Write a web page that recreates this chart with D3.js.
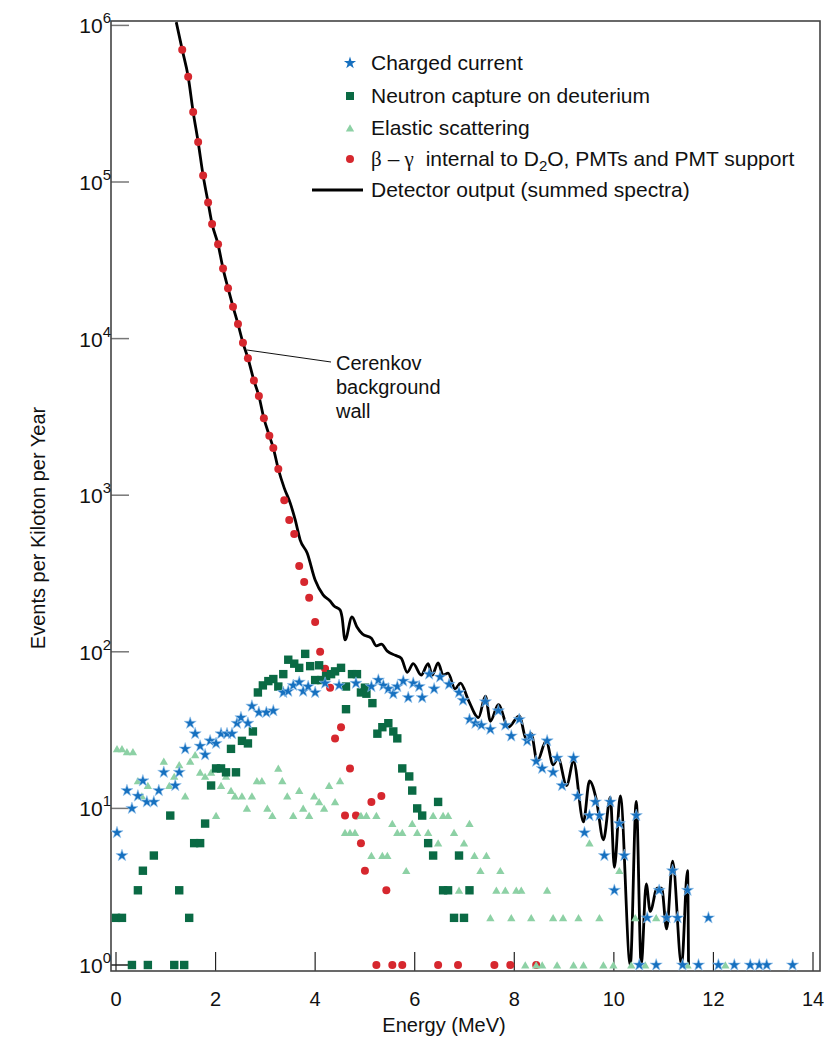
<!DOCTYPE html>
<html>
<head>
<meta charset="utf-8">
<script src="https://cdn.jsdelivr.net/npm/d3@7"></script>
<style>
	body { margin: 0; background: #fff; }
	text { font-family: "Liberation Sans", Arial, sans-serif; fill: #111; }
</style>
</head>
<body>
<div id="chart"></div>
<script>
var width = 824;
var height = 1038;

// Charged current (blue stars): energy (MeV) / events per kiloton per year
var ccEnergy = [0.02, 0.12, 0.22, 0.32, 0.44, 0.54, 0.62, 0.76, 0.86, 0.96, 1.19, 1.27, 1.39, 1.49, 1.59, 1.69, 1.79, 1.89,
	2.01, 2.11, 2.23, 2.33, 2.43, 2.51, 2.65, 2.73, 2.87, 3.02, 3.16, 3.36, 3.46, 3.56, 3.68, 3.76, 3.86, 4.00, 4.20, 4.48,
	4.82, 5.13, 5.27, 5.37, 5.47, 5.57, 5.65, 5.77, 5.87, 5.97, 6.09, 6.15, 6.29, 6.39, 6.51, 6.69, 6.89, 6.97, 7.10, 7.22,
	7.34, 7.42, 7.52, 7.68, 7.82, 7.94, 8.10, 8.26, 8.32, 8.44, 8.56, 8.66, 8.78, 8.86, 8.96, 9.19, 9.27, 9.41, 9.51, 9.63,
	9.71, 9.81, 9.93, 10.01, 10.11, 10.21, 10.45, 10.51, 10.67, 10.85, 10.91, 11.06, 11.18, 11.28, 11.38, 11.48, 11.70,
	11.90, 12.10, 12.42, 12.74, 12.92, 13.07, 13.59];
var ccEvents = [7, 5, 13, 10, 12, 15, 11, 11, 13, 17, 14, 17, 24, 35, 30, 25, 22, 27,
	26, 30, 30, 30, 35, 38, 35, 45, 41, 41, 42, 55, 56, 61, 64, 56, 60, 55, 63, 61,
	63, 60, 66, 61, 58, 54, 60, 65, 51, 63, 60, 51, 72, 58, 69, 62, 55, 49, 37, 35,
	34, 48, 32, 42, 34, 29, 37, 27, 29, 20, 18, 27, 17, 21, 14, 21, 12, 7, 9, 11,
	9, 5, 11, 3, 8, 5, 9, 1, 2, 1, 3, 2, 4, 2, 1, 3, 1,
	2, 1, 1, 1, 1, 1, 1];

// Neutron capture on deuterium (dark green squares)
var ncEnergy = [0.00, 0.12, 0.32, 0.44, 0.54, 0.64, 0.76, 1.09, 1.17, 1.27, 1.37, 1.47, 1.57, 1.69, 1.79, 1.91, 2.01, 2.11,
	2.21, 2.31, 2.41, 2.53, 2.65, 2.75, 2.85, 2.95, 3.06, 3.16, 3.26, 3.36, 3.46, 3.58, 3.68, 3.80, 3.90, 4.00, 4.08, 4.12,
	4.22, 4.32, 4.40, 4.52, 4.62, 4.62, 4.74, 4.84, 4.92, 5.00, 5.03, 5.15, 5.25, 5.35, 5.47, 5.57, 5.65, 5.75, 5.89, 5.95,
	6.05, 6.15, 6.27, 6.37, 6.47, 6.57, 6.67, 6.79, 6.89, 6.99, 7.10];
var ncEvents = [2, 2, 1, 3, 4, 1, 5, 9, 1, 3, 1, 2, 6, 6, 8, 14, 18, 18,
	17, 24, 17, 27, 26, 31, 55, 61, 65, 67, 60, 72, 89, 84, 79, 97, 81, 66, 82, 66,
	70, 72, 75, 79, 60, 43, 72, 72, 55, 59, 54, 47, 30, 33, 35, 31, 28, 18, 16, 13,
	10, 9, 6, 5, 11, 3, 3, 2, 5, 2, 3];

// Elastic scattering (light green triangles)
var esEnergy = [0.02, 0.12, 0.22, 0.34, 0.44, 0.52, 0.64, 0.96, 1.07, 1.17, 1.27, 1.39, 1.49, 1.59, 1.69, 1.79, 1.91, 2.01,
	2.11, 2.21, 2.31, 2.39, 2.53, 2.63, 2.73, 2.83, 2.93, 3.04, 3.14, 3.26, 3.34, 3.44, 3.56, 3.68, 3.76, 3.88, 3.98, 4.08,
	4.18, 4.28, 4.40, 4.50, 4.60, 4.70, 4.80, 4.92, 5.03, 5.13, 5.23, 5.35, 5.45, 5.55, 5.65, 5.75, 5.83, 5.95, 6.05, 6.27,
	6.37, 6.47, 6.57, 6.67, 6.79, 6.89, 6.99, 7.10, 7.20, 7.32, 7.44, 7.52, 7.64, 7.72, 7.82, 7.94, 8.04, 8.14, 8.22, 8.34,
	8.44, 8.56, 8.66, 8.78, 8.86, 8.98, 9.19, 9.29, 9.39, 9.51, 9.71, 9.79, 9.99, 10.11, 10.35, 10.43, 10.63, 10.85, 11.48, 12.24];
var esEvents = [24, 24, 23, 23, 15, 12, 14, 20, 14, 16, 19, 12, 20, 22, 17, 16, 17, 9,
	14, 16, 13, 12, 12, 10, 12, 15, 15, 10, 9, 18, 15, 12, 9, 13, 10, 9, 12, 11,
	10, 14, 11, 15, 7, 7, 7, 9, 9, 5, 9, 5, 5, 8, 7, 7, 4, 8, 7, 7,
	9, 6, 9, 9, 7, 3, 6, 8, 5, 4, 5, 2, 3, 4, 3, 2, 3, 3, 1, 2,
	1, 1, 3, 2, 1, 2, 1, 2, 1, 6, 2, 1, 1, 4, 1, 2, 1, 2, 1, 1];

// Beta-gamma internal to D2O, PMTs and PMT support (red circles)
var bgEnergy = [1.33, 1.45, 1.55, 1.65, 1.75, 1.85, 1.93, 2.05, 2.15, 2.25, 2.35, 2.45, 2.55, 2.65, 2.77, 2.87, 2.97, 3.08,
	3.16, 3.26, 3.38, 3.48, 3.58, 3.68, 3.78, 3.88, 4.00, 4.10, 4.20, 4.30, 4.40, 4.52, 4.60, 4.70, 4.82, 4.92, 5.00, 5.13,
	5.23, 5.33, 5.43, 5.55, 5.75, 6.47, 6.87, 7.60, 7.92, 8.44];
var bgEvents = [7.0e5, 4.7e5, 2.8e5, 1.8e5, 1.1e5, 7.4e4, 5.4e4, 4.0e4, 2.8e4, 2.1e4, 1.6e4, 1.24e4, 9400, 7500, 5400, 4300, 3100, 2400,
	2000, 1470, 930, 695, 565, 353, 279, 221, 155, 100, 78, 59, 28, 33, 9, 18, 9, 6, 4, 11,
	1, 12, 3, 1, 1, 1, 1, 1, 1, 1];

// Detector output (summed spectra), black line
var detEnergy = [1.21, 1.33, 1.45, 1.55, 1.65, 1.75, 1.85, 1.93, 2.05, 2.15, 2.25, 2.35, 2.45, 2.55, 2.65, 2.77, 2.87, 2.97,
	3.08, 3.16, 3.26, 3.38, 3.50, 3.60, 3.70, 3.84, 4.00, 4.16, 4.30, 4.38, 4.50, 4.54, 4.60, 4.74, 4.84, 4.95, 5.13, 5.23,
	5.33, 5.45, 5.61, 5.73, 5.85, 5.97, 6.13, 6.27, 6.35, 6.47, 6.57, 6.67, 6.81, 6.92, 7.08, 7.28, 7.42, 7.52, 7.68, 7.88,
	8.10, 8.24, 8.34, 8.46, 8.64, 8.78, 8.88, 9.05, 9.19, 9.39, 9.51, 9.65, 9.79, 9.93, 10.01, 10.13, 10.33, 10.45, 10.55,
	10.65, 10.73, 10.87, 10.96, 11.06, 11.18, 11.36, 11.48, 11.50];
var detEvents = [1.05e6, 7.0e5, 4.7e5, 2.8e5, 1.8e5, 1.1e5, 7.4e4, 5.4e4, 4.0e4, 2.8e4, 2.1e4, 1.6e4, 1.24e4, 9400, 7500, 5400, 4300, 3100,
	2400, 2000, 1470, 1110, 890, 695, 517, 427, 287, 231, 211, 196, 185, 167, 119, 167, 144, 130, 122, 109,
	112, 101, 95, 91, 74, 84, 71, 84, 71, 85, 71, 73, 58, 63, 49, 38, 52, 36, 46, 33,
	39, 28, 30, 20, 27, 19, 21, 14, 20, 8.2, 15, 11.3, 6.3, 11.8, 4.2, 12, 1, 11.1, 1,
	3.3, 2.2, 3.1, 3.1, 1.7, 4.6, 1, 4, 1];

var xTicks = [0, 2, 4, 6, 8, 10, 12, 14];
var yExponents = [0, 1, 2, 3, 4, 5, 6];

var legendLabels = ["Charged current", "Neutron capture on deuterium", "Elastic scattering",
	"internal to D2O, PMTs and PMT support", "Detector output (summed spectra)"];

// plot frame
var frame = { left: 111, right: 820, top: 21, bottom: 971 };

var x = d3.scaleLinear().domain([0, 14]).range([116, 813]);
var y = d3.scaleLog().domain([1, 1e6]).range([965, 25.4]);

var colors = { cc: "#1670bf", nc: "#0a6a44", es: "#8dd1a5", bg: "#d6272e" };

function zip(ex, ev) {
	return ex.map((e, i) => ({ e: e, v: ev[i] }));
	}

var svg = d3.select("#chart")
	.append("svg")
		.attr("width", width)
		.attr("height", height)
	;

svg.append("clipPath")
	.attr("id", "plotclip")
	.append("rect")
		.attr("x", frame.left)
		.attr("y", frame.top)
		.attr("width", frame.right - frame.left)
		.attr("height", frame.bottom - frame.top)
	;

// ticks (inward)
svg.selectAll(".xtick")
	.data(xTicks)
	.enter()
		.append("line")
			.attr("x1", d => x(d))
			.attr("x2", d => x(d))
			.attr("y1", frame.bottom)
			.attr("y2", frame.bottom - 19)
			.attr("stroke", "#222")
			.attr("stroke-width", 1.2)
	;

svg.selectAll(".ytick")
	.data(yExponents)
	.enter()
		.append("line")
			.attr("x1", frame.left)
			.attr("x2", frame.left + 18)
			.attr("y1", d => y(Math.pow(10, d)))
			.attr("y2", d => y(Math.pow(10, d)))
			.attr("stroke", d => d === 0 ? "#222" : "#777")
			.attr("stroke-width", 1.5)
	;

// frame
svg.append("rect")
	.attr("x", frame.left)
	.attr("y", frame.top)
	.attr("width", frame.right - frame.left)
	.attr("height", frame.bottom - frame.top)
	.attr("fill", "none")
	.attr("stroke", "#444")
	.attr("stroke-width", 1.6)
	;

// tick labels
svg.selectAll(".xlab")
	.data(xTicks)
	.enter()
		.append("text")
			.attr("x", d => x(d))
			.attr("y", 1006)
			.attr("text-anchor", "middle")
			.attr("font-size", 20)
			.text(d => d)
	;

var ylab = svg.selectAll(".ylab")
	.data(yExponents)
	.enter()
		.append("text")
			.attr("x", 111)
			.attr("y", d => y(Math.pow(10, d)) + 8)
			.attr("text-anchor", "end")
			.attr("font-size", 21)
	;
ylab.append("tspan").text("10");
ylab.append("tspan")
	.attr("dy", -10)
	.attr("font-size", 15)
	.text(d => d);

// axis titles
svg.append("text")
	.attr("x", 444)
	.attr("y", 1032)
	.attr("text-anchor", "middle")
	.attr("font-size", 20)
	.text("Energy (MeV)")
	;

svg.append("text")
	.attr("transform", "translate(45,528) rotate(-90)")
	.attr("text-anchor", "middle")
	.attr("font-size", 20)
	.text("Events per Kiloton per Year")
	;

// summed spectra line
var line = d3.line()
	.x(d => x(d.e))
	.y(d => y(d.v))
	.curve(d3.curveMonotoneX)
	;

svg.append("path")
	.datum(zip(detEnergy, detEvents))
	.attr("clip-path", "url(#plotclip)")
	.attr("d", line)
	.attr("fill", "none")
	.attr("stroke", "#000")
	.attr("stroke-width", 2.8)
	.attr("stroke-linejoin", "round")
	;

var plot = svg.append("g").attr("clip-path", "url(#plotclip)");

var starPath = d3.symbol(d3.symbolStar, 46)();
var triPath = d3.symbol(d3.symbolTriangle, 30)();

// red circles
plot.selectAll(".bg")
	.data(zip(bgEnergy, bgEvents))
	.enter()
		.append("circle")
			.attr("cx", d => x(d.e))
			.attr("cy", d => y(d.v))
			.attr("r", 4)
			.attr("fill", colors.bg)
	;

// triangles
plot.selectAll(".es")
	.data(zip(esEnergy, esEvents))
	.enter()
		.append("path")
			.attr("d", triPath)
			.attr("transform", d => "translate(" + x(d.e) + "," + (y(d.v) + 1) + ")")
			.attr("fill", colors.es)
	;

// squares
plot.selectAll(".nc")
	.data(zip(ncEnergy, ncEvents))
	.enter()
		.append("rect")
			.attr("x", d => x(d.e) - 4.2)
			.attr("y", d => y(d.v) - 4.2)
			.attr("width", 8.4)
			.attr("height", 8.4)
			.attr("fill", colors.nc)
	;

// stars
plot.selectAll(".cc")
	.data(zip(ccEnergy, ccEvents))
	.enter()
		.append("path")
			.attr("d", starPath)
			.attr("transform", d => "translate(" + x(d.e) + "," + y(d.v) + ")")
			.attr("fill", colors.cc)
			.attr("stroke", "#9cc8ee")
			.attr("stroke-width", 0.6)
	;

// leader line and annotation
svg.append("line")
	.attr("x1", 247).attr("y1", 350)
	.attr("x2", 331).attr("y2", 362)
	.attr("stroke", "#111")
	.attr("stroke-width", 1)
	;

svg.append("text")
	.attr("font-size", 20)
	.selectAll("tspan")
	.data(["Cerenkov", "background", "wall"])
	.enter()
		.append("tspan")
			.attr("x", 336)
			.attr("y", (d, i) => 370 + i * 24)
			.text(d => d)
	;

// legend
var legendY = [63, 96, 128, 159, 190];
var lx = 350;
var legend = svg.append("g");

legend.append("path")
	.attr("d", starPath)
	.attr("transform", "translate(" + lx + "," + legendY[0] + ")")
	.attr("fill", colors.cc);
legend.append("rect")
	.attr("x", lx - 4).attr("y", legendY[1] - 4)
	.attr("width", 8).attr("height", 8)
	.attr("fill", colors.nc);
legend.append("path")
	.attr("d", triPath)
	.attr("transform", "translate(" + lx + "," + (legendY[2] + 1) + ")")
	.attr("fill", colors.es);
legend.append("circle")
	.attr("cx", lx).attr("cy", legendY[3])
	.attr("r", 4)
	.attr("fill", colors.bg);
legend.append("line")
	.attr("x1", 312).attr("x2", 363)
	.attr("y1", legendY[4]).attr("y2", legendY[4])
	.attr("stroke", "#000")
	.attr("stroke-width", 2.8);

legendLabels.forEach(function(lab, i) {
	var t = legend.append("text")
		.attr("x", 371)
		.attr("y", legendY[i] + 7)
		.attr("font-size", 21);
	if (i === 3) {
		// beta - gamma with subscripted D2O
		t.append("tspan").attr("font-family", "Liberation Serif, serif").text("\u03B2");
		t.append("tspan").attr("dx", 6).text("\u2013");
		t.append("tspan").attr("dx", 5).attr("font-family", "Liberation Serif, serif").text("\u03B3");
		t.append("tspan").attr("dx", 12).text("internal to D");
		t.append("tspan").attr("dy", 5).attr("font-size", 15).text("2");
		t.append("tspan").attr("dy", -5).text("O, PMTs and PMT support");
		}
	else {
		t.text(lab);
		}
	});
</script>
</body>
</html>
